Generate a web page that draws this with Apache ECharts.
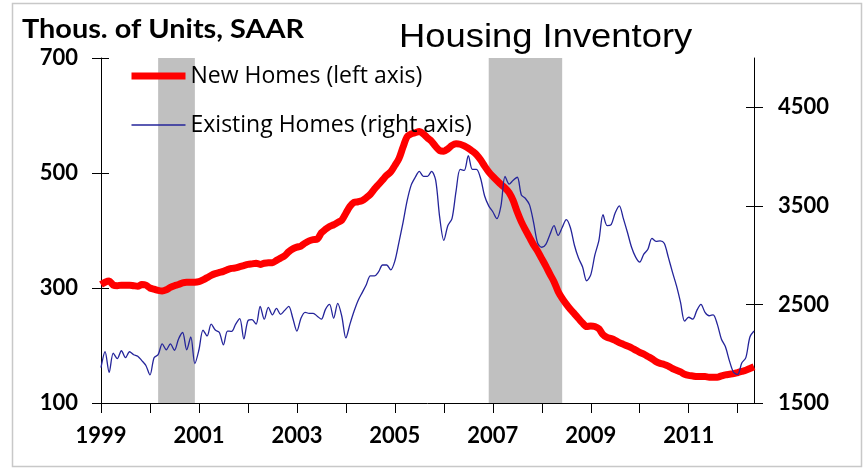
<!DOCTYPE html>
<html><head><meta charset="utf-8">
<script src="https://cdn.jsdelivr.net/npm/echarts@6/dist/echarts.min.js"></script>
<style>html,body{margin:0;padding:0;background:#fff}#c{width:867px;height:470px}</style>
</head><body><div id="c"></div>
<script>
const startYear = 1999, monthCount = 161;
// New home inventory, thousands (left axis), monthly from Jan 1999 (as labelled)
const newHomes = [
306,310,312,305,304,305,305,305,304,303,306,305,
300,298,296,295,297,301,304,306,309,310,310,310,
311,314,318,322,325,327,329,332,334,335,337,339,
341,342,343,341,343,344,344,348,352,356,363,368,
371,373,378,382,384,385,396,402,407,410,414,418,
430,442,449,450,452,457,463,472,480,488,496,502,
513,525,545,563,568,570,572,568,561,555,546,539,
538,542,548,551,550,547,543,538,532,523,512,502,
494,487,480,474,466,452,432,415,401,388,375,364,
351,338,324,311,294,282,272,263,255,247,239,233,
234,233,229,219,214,212,209,205,202,199,196,192,
188,185,181,177,172,169,167,164,160,157,154,150,
148,147,146,146,146,145,145,145,147,149,150,151,
153,155,157,160,163];
// Existing home inventory, thousands (right axis)
const existingHomes = [
1860,2020,1810,2005,1950,2030,1960,2020,1990,1975,1930,1880,
1785,1960,1990,2100,2040,2100,2035,2150,2215,2040,2170,1900,
2040,2240,2180,2300,2240,2215,2090,2230,2227,2300,2355,2150,
2335,2345,2300,2480,2350,2470,2395,2460,2400,2440,2480,2360,
2230,2360,2420,2410,2410,2380,2350,2450,2500,2360,2510,2380,
2160,2300,2430,2540,2620,2700,2790,2790,2830,2900,2900,2850,
2940,3130,3330,3550,3710,3790,3850,3800,3800,3850,3760,3380,
3150,3300,3370,3650,3870,3860,4010,3870,3870,3780,3600,3500,
3440,3370,3500,3800,3720,3760,3790,3610,3575,3510,3330,3120,
3080,3110,3210,3300,3200,3280,3360,3280,3100,2970,2880,2740,
2800,3000,3150,3410,3300,3310,3430,3500,3370,3230,3080,2980,
2930,3010,3060,3170,3140,3145,3120,2980,2830,2690,2520,2330,
2370,2350,2440,2500,2420,2385,2395,2300,2150,2070,1925,1810,
1790,1905,1960,2170,2230];
const leftTicks = [100, 300, 500, 700];
const rightTicks = [1500, 2500, 3500, 4500];
const recessions = [['2000-03', '2000-12'], ['2006-12', '2008-06']];
const seriesNames = ['New Homes (left axis)', 'Existing Homes (right axis)'];
const redColor = '#ff0000', blueColor = '#24249a';

const months = [];
for (let i = 0; i < monthCount; i++) {
  const y = startYear + Math.floor(i / 12), m = i % 12 + 1;
  months.push(y + '-' + String(m).padStart(2, '0'));
}

const labelFont = { fontFamily: 'Lato', fontWeight: 'bold', fontSize: 22, color: '#000' };
const chart = echarts.init(document.getElementById('c'), null, { renderer: 'canvas' });
chart.setOption({
  animation: false,
  backgroundColor: '#fff',
  grid: { left: 101, right: 113, top: 58, bottom: 67, containLabel: false },
  legend: {
    data: [
      { name: seriesNames[0], itemStyle: { opacity: 0 }, lineStyle: { width: 7, color: redColor } },
      { name: seriesNames[1], itemStyle: { opacity: 0 }, lineStyle: { width: 1.3, color: blueColor } }
    ],
    orient: 'vertical', left: 123, top: 59, padding: 5,
    itemWidth: 54, itemHeight: 14, itemGap: 25, selectedMode: false,
    textStyle: { fontFamily: 'Open Sans', fontSize: 23, color: '#000', lineHeight: 24 }
  },
  xAxis: {
    type: 'category', data: months, boundaryGap: false,
    axisLine: { lineStyle: { color: '#000', width: 1 } },
    axisTick: { interval: (i) => i % 12 === 0, length: 10, lineStyle: { color: '#000' } },
    axisLabel: Object.assign({ interval: (i) => i % 24 === 0, formatter: (v) => v.slice(0, 4), margin: 22 }, labelFont),
    splitLine: { show: false }
  },
  yAxis: [
    { type: 'value', position: 'left', min: 100, max: 700, interval: 200,
      axisLine: { show: true, lineStyle: { color: '#000' } },
      axisTick: { show: true, length: 9, lineStyle: { color: '#000' } },
      axisLabel: Object.assign({ margin: 23, customValues: leftTicks, formatter: (v) => String(v) }, labelFont),
      splitLine: { show: false } },
    { type: 'value', position: 'right', min: 1500, max: 5000,
      axisLine: { show: true, lineStyle: { color: '#000' } },
      axisTick: { show: true, length: 9, customValues: rightTicks, lineStyle: { color: '#000' } },
      axisLabel: Object.assign({ margin: 24, customValues: rightTicks, formatter: (v) => String(v) }, labelFont),
      splitLine: { show: false } },
    { type: 'value', position: 'left', min: 100, max: 700, interval: 200,
      axisLine: { show: false }, axisLabel: { show: false }, splitLine: { show: false },
      axisTick: { show: true, inside: true, length: 8, lineStyle: { color: '#000' } } },
    { type: 'value', position: 'right', min: 1500, max: 5000,
      axisLine: { show: false }, axisLabel: { show: false }, splitLine: { show: false },
      axisTick: { show: true, inside: true, length: 8, customValues: rightTicks.slice(1), lineStyle: { color: '#000' } } }
  ],
  series: [
    { type: 'line', name: 'recessions', data: [], z: 1, silent: true,
      markArea: { silent: true, itemStyle: { color: '#c0c0c0' },
        data: recessions.map(r => [{ xAxis: r[0] }, { xAxis: r[1] }]) } },
    { type: 'line', name: seriesNames[0], yAxisIndex: 0, data: newHomes, symbol: 'none', smooth: 0.3,
      lineStyle: { color: redColor, width: 7 }, itemStyle: { color: redColor }, z: 3 },
    { type: 'line', name: seriesNames[1], yAxisIndex: 1, data: existingHomes, symbol: 'none', smooth: 0.3,
      lineStyle: { color: blueColor, width: 1.3 }, itemStyle: { color: blueColor }, z: 4 }
  ],
  graphic: [
    { type: 'rect', shape: { x: 12.5, y: 3.5, width: 849, height: 463 }, silent: true, z: -10,
      style: { fill: 'none', stroke: '#c8c8c8', lineWidth: 1.5 } },
    { type: 'text', x: 22, y: 17, scaleX: 1.11,
      style: { text: 'Thous. of Units, SAAR', font: 'bold 26px Lato', fill: '#000' } },
    { type: 'text', x: 399, y: 21, scaleX: 1.07,
      style: { text: 'Housing Inventory', font: '34px "Liberation Sans"', fill: '#000' } }
  ]
});
</script></body></html>
